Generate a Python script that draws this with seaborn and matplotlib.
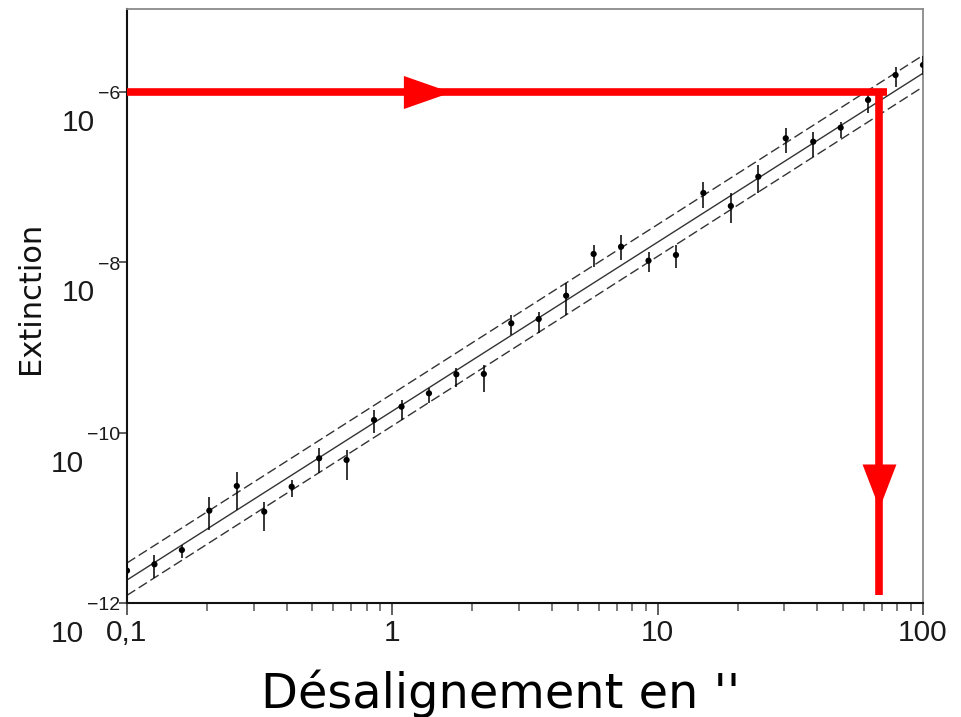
import numpy as np
import pandas as pd
import matplotlib
matplotlib.use("Agg")
import matplotlib.pyplot as plt
from matplotlib.ticker import FixedLocator, NullLocator, NullFormatter
import seaborn as sns

# ---------------- data ----------------
misalign = [0.1, 0.1269, 0.1610, 0.2043, 0.2593, 0.3290, 0.4175, 0.5298, 0.6723, 0.8532,
            1.083, 1.374, 1.743, 2.212, 2.807, 3.562, 4.520, 5.736, 7.279, 9.237,
            11.72, 14.87, 18.87, 23.95, 30.39, 38.57, 48.94, 62.10, 78.80, 100.0]
ext_exp = [-11.62, -11.546, -11.378, -10.916, -10.626, -10.928, -10.635, -10.301, -10.321, -9.851,
           -9.695, -9.538, -9.315, -9.311, -8.716, -8.666, -8.392, -7.902, -7.817, -7.981,
           -7.914, -7.186, -7.339, -6.995, -6.544, -6.584, -6.419, -6.094, -5.801, -5.683]
err_top_exp = [-11.54, -11.436, -11.319, -10.755, -10.458, -10.811, -10.556, -10.180, -10.204, -9.734,
               -9.617, -9.476, -9.241, -9.206, -8.619, -8.580, -8.243, -7.797, -7.679, -7.875,
               -7.797, -7.053, -7.190, -6.857, -6.427, -6.467, -6.349, -6.035, -5.703, -5.58]
err_bot_exp = [-11.70, -11.706, -11.472, -11.143, -10.908, -11.151, -10.752, -10.474, -10.556, -10.004,
               -9.851, -9.652, -9.460, -9.519, -8.853, -8.830, -8.619, -8.051, -7.973, -8.110,
               -8.070, -7.366, -7.542, -7.190, -6.720, -6.760, -6.544, -6.250, -5.938, -5.80]

fit_x = [0.1, 100.0]
fit_exp = [-11.73, -5.78]
upper_exp = [-11.53, -5.57]
lower_exp = [-11.91, -5.94]

x_ticks = [0.1, 1, 10, 100]
x_ticklabels = ["0,1", "1", "10", "100"]
y_tick_exps = [-6, -8, -10, -12]

guide_level = 1e-6        # horizontal red guide
guide_h_end = 73.3
guide_h_head = 1.346
guide_x = 68.5            # vertical red guide
guide_v_end = 1.24e-12
guide_v_head = 2.37e-11

# ---------------- figure ----------------
sns.set_theme(style="white")
plt.rcParams["font.family"] = ["DejaVu Sans"]
TICKFONT = "Liberation Sans"

W, H = 962, 717
fig = plt.figure(figsize=(W / 100, H / 100), dpi=100)
ax = fig.add_axes([127 / W, 1 - 603 / H, 796 / W, 594 / H])
ax.set_xscale("log")
ax.set_yscale("log")

xs = np.array(misalign)
ys = 10 ** np.array(ext_exp)
ytop = 10 ** np.array(err_top_exp)
ybot = 10 ** np.array(err_bot_exp)
df = pd.DataFrame({"x": xs, "y": ys})

# fit lines
line_col = "#333333"
sns.lineplot(x=fit_x, y=10 ** np.array(fit_exp), ax=ax, color=line_col, lw=1.0,
             estimator=None, sort=False, zorder=2)
sns.lineplot(x=fit_x, y=10 ** np.array(upper_exp), ax=ax, color=line_col, lw=1.0,
             linestyle=(0, (7, 3)), estimator=None, sort=False, zorder=2)
sns.lineplot(x=fit_x, y=10 ** np.array(lower_exp), ax=ax, color=line_col, lw=1.0,
             linestyle=(0, (7, 3)), estimator=None, sort=False, zorder=2)

# error bars + points
ax.errorbar(xs, ys, yerr=[ys - ybot, ytop - ys], fmt="none", ecolor="black",
            elinewidth=1.1, capsize=0, zorder=3)
sns.scatterplot(data=df, x="x", y="y", ax=ax, color="black", s=20,
                edgecolor="none", zorder=4)

# red guides
red = "#ff0000"
ax.plot([fit_x[0], guide_h_end], [guide_level, guide_level], color=red, lw=5.5,
        solid_capstyle="butt", zorder=6)
ax.plot([guide_x, guide_x], [guide_level, guide_v_end], color=red, lw=5.5,
        solid_capstyle="butt", zorder=6)
ax.plot([guide_h_head], [guide_level], linestyle="none", color=red,
        marker=[(-1, -0.7), (1, 0), (-1, 0.7)], markersize=34, markeredgewidth=0, zorder=7)
ax.plot([guide_x], [guide_v_head], linestyle="none", color=red,
        marker=[(-0.77, 1), (0.77, 1), (0, -1)], markersize=31.7, markeredgewidth=0, zorder=7)

# axes limits & spines
ax.set_xlim(0.1, 100)
ax.set_ylim(1e-12, 10 ** -5.026)
for s in ["left", "bottom"]:
    ax.spines[s].set_color("#111111")
    ax.spines[s].set_linewidth(1.5)
for s in ["top", "right"]:
    ax.spines[s].set_color("#8a8a8a")
    ax.spines[s].set_linewidth(1.3)
ax.grid(False)
ax.set_xlabel("")
ax.set_ylabel("")

# x ticks
ax.xaxis.set_major_locator(FixedLocator(x_ticks))
ax.set_xticklabels(x_ticklabels, fontsize=21.5, fontfamily=TICKFONT, color="#1a1a1a")
minor = [m * 10.0 ** d for d in (-1, 0, 1) for m in range(2, 10)]
ax.xaxis.set_minor_locator(FixedLocator(minor))
ax.xaxis.set_minor_formatter(NullFormatter())
ax.tick_params(axis="x", which="major", bottom=True, direction="out", length=8.6,
               width=1.1, color="#333333", pad=3)
ax.tick_params(axis="x", which="minor", bottom=True, direction="out", length=5.8,
               width=1.1, color="#555555")

# y ticks (labels drawn by hand: exponent at the tick, base below-left)
ax.yaxis.set_major_locator(FixedLocator([10.0 ** e for e in y_tick_exps]))
ax.yaxis.set_minor_locator(NullLocator())
ax.tick_params(axis="y", which="major", left=True, direction="out", length=6,
               width=1.1, color="#333333", labelleft=False)
for e in y_tick_exps:
    ex = ax.annotate("\u2212" + str(abs(e)), xy=(0, 10.0 ** e),
                     xycoords=("axes fraction", "data"), xytext=(-7, -3),
                     textcoords="offset pixels", ha="right", va="center",
                     fontsize=14, fontfamily=TICKFONT, color="#1a1a1a")
    ax.annotate("10", xy=(0, 0.5), xycoords=ex, xytext=(-3, -28),
                textcoords="offset pixels", ha="right", va="center",
                fontsize=21.5, fontfamily=TICKFONT, color="#1a1a1a")

# axis titles
fig.text(31 / W, 1 - 298 / H, "Extinction", rotation=90, ha="center", va="center",
         fontsize=22, color="#111111")
fig.text(501 / W, 1 - 708 / H, "D\u00e9salignement en ''", ha="center", va="baseline",
         fontsize=34.5, color="black")

fig.savefig("out.png", dpi=100)
